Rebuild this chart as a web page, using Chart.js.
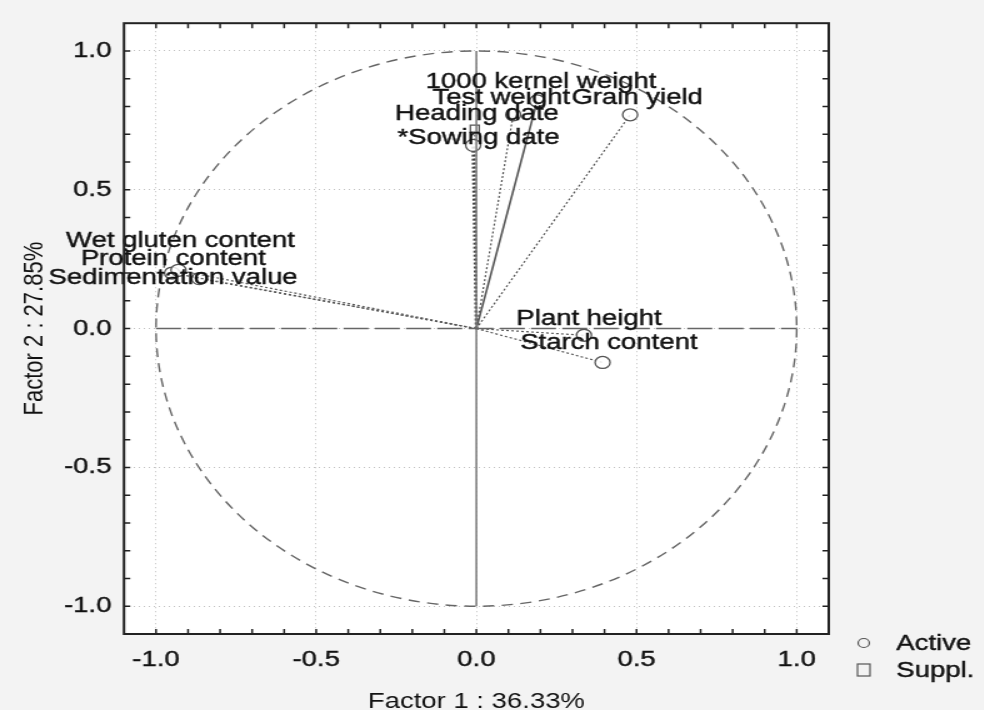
<!DOCTYPE html>
<html>
<head>
<meta charset="utf-8">
<script src="https://cdn.jsdelivr.net/npm/chart.js@4.4.1/dist/chart.umd.min.js"></script>
<style>
  html, body { margin: 0; padding: 0; background: #f3f3f3; overflow: hidden; }
  /* the source picture is stretched sideways, so the whole chart is too */
  #wrap { width: 787px; height: 710px; transform: scaleX(1.25); transform-origin: 0 0; }
</style>
</head>
<body>
<div id="wrap"><canvas id="pca"></canvas></div>
<script>
// variable loadings on factor 1 and factor 2
const varNames = ['Grain yield', '1000 kernel weight', 'Test weight', 'Heading date', '*Sowing date',
  'Wet gluten content', 'Protein content', 'Sedimentation value', 'Plant height', 'Starch content'];
const factor1 = [0.48, 0.19, 0.115, -0.01, -0.005, -0.93, -0.95, -0.865, 0.336, 0.394];
const factor2 = [0.77, 0.82, 0.77, 0.66, 0.72, 0.21, 0.20, 0.18, -0.024, -0.122];
const varType = ['active', 'active', 'active', 'active', 'suppl',
  'active', 'active', 'active', 'active', 'active'];

const tickValues = [-1, -0.5, 0, 0.5, 1];
const tickLabels = ['-1.0', '-0.5', '0.0', '0.5', '1.0'];
const xTitle = 'Factor 1 : 36.33%';
const yTitle = 'Factor 2 : 27.85%';
const legendLabels = ['Active', 'Suppl.'];

// label placement, pixels from the point (label centre, baseline)
const labelShift = [[5.6, -11], [3, -13], [-9.6, -11], [3, -25], [3, 15],
  [1.6, -23], [1, -8], [-21, 5], [4, -10], [5, -13]];

const FONT = 'Liberation Sans, Arial, Helvetica, sans-serif';
const INK = '#111';

const vectorSets = varNames.map((name, i) => {
  const solid = name === '1000 kernel weight';
  const heavy = name === 'Heading date';
  return {
    label: name,
    data: [{x: 0, y: 0}, {x: factor1[i], y: factor2[i]}],
    showLine: true,
    borderColor: heavy ? '#444' : '#555',
    borderWidth: heavy ? 2.6 : (solid ? 1.6 : 1.2),
    borderDash: solid ? [] : [2, 2],
    pointRadius: [0, varType[i] === 'suppl' ? 5 : 6],
    pointHoverRadius: [0, 6],
    pointStyle: varType[i] === 'suppl' ? 'rect' : 'circle',
    pointBorderColor: '#555',
    pointBorderWidth: 1.3,
    pointBackgroundColor: 'rgba(255,255,255,0.85)'
  };
});

const axisSets = [
  {label: 'h-axis', data: [{x: -1, y: 0}, {x: 1, y: 0}], showLine: true,
   borderColor: '#666', borderWidth: 1.5, borderDash: [20, 5], pointRadius: 0},
  {label: 'v-axis', data: [{x: 0, y: -1}, {x: 0, y: 1}], showLine: true,
   borderColor: '#777', borderWidth: 1.5, pointRadius: 0}
];

function axis(title, padTick, padTitle, fit) {
  return {
    type: 'linear', min: -1.1, max: 1.1,
    afterBuildTicks: s => { s.ticks = tickValues.map(v => ({value: v})); },
    afterFit: fit,
    ticks: {
      callback: v => tickLabels[tickValues.indexOf(v)],
      color: INK, padding: padTick,
      textStrokeColor: INK, textStrokeWidth: 0.4,
      font: {family: FONT, size: 22}
    },
    grid: {color: '#c2c2c2', lineWidth: 1, drawTicks: false},
    border: {display: false, dash: [1, 3]},
    title: {display: true, text: title, color: INK, padding: padTitle,
      font: {family: FONT, size: 22, lineHeight: 0.7}}
  };
}

const pcaPlugin = {
  id: 'pca',
  beforeDraw(chart) {
    const {ctx, chartArea: a} = chart;
    ctx.save();
    ctx.fillStyle = '#ffffff';
    ctx.fillRect(a.left, a.top, a.right - a.left, a.bottom - a.top);
    ctx.restore();
  },
  beforeDatasetsDraw(chart) {
    // unit circle
    const {ctx, scales: {x, y}} = chart;
    const cx = x.getPixelForValue(0), cy = y.getPixelForValue(0);
    ctx.save();
    ctx.strokeStyle = '#666';
    ctx.lineWidth = 1.4;
    ctx.setLineDash([9, 6]);
    ctx.beginPath();
    ctx.ellipse(cx, cy, x.getPixelForValue(1) - cx, cy - y.getPixelForValue(1), 0, 0, Math.PI * 2);
    ctx.stroke();
    ctx.restore();
  },
  afterDatasetsDraw(chart) {
    const {ctx, scales: {x, y}} = chart;
    ctx.save();
    ctx.font = '22px ' + FONT;
    ctx.fillStyle = INK;
    ctx.strokeStyle = INK;
    ctx.lineWidth = 0.4;
    ctx.textAlign = 'center';
    ctx.textBaseline = 'alphabetic';
    varNames.forEach((name, i) => {
      const px = x.getPixelForValue(factor1[i]) + labelShift[i][0];
      const py = y.getPixelForValue(factor2[i]) + labelShift[i][1];
      ctx.fillText(name, px, py);
      ctx.strokeText(name, px, py);
    });
    ctx.restore();
  },
  afterDraw(chart) {
    const {ctx, chartArea: a, scales: {x, y}} = chart;
    ctx.save();
    // frame
    ctx.strokeStyle = '#222';
    ctx.lineWidth = 2;
    ctx.strokeRect(a.left, a.top, a.right - a.left, a.bottom - a.top);
    // inner minor ticks
    ctx.lineWidth = 1.5;
    ctx.beginPath();
    for (let i = -10; i <= 10; i++) {
      const v = i / 10;
      const px = x.getPixelForValue(v), py = y.getPixelForValue(v);
      ctx.moveTo(px, a.bottom); ctx.lineTo(px, a.bottom - 5);
      ctx.moveTo(px, a.top); ctx.lineTo(px, a.top + 5);
      ctx.moveTo(a.left, py); ctx.lineTo(a.left + 5, py);
      ctx.moveTo(a.right, py); ctx.lineTo(a.right - 5, py);
    }
    ctx.stroke();
    // legend
    const lx = a.right + 28, ly = [a.bottom + 9, a.bottom + 36];
    ctx.strokeStyle = '#555';
    ctx.lineWidth = 1.2;
    ctx.beginPath();
    ctx.arc(lx, ly[0], 4.5, 0, Math.PI * 2);
    ctx.stroke();
    ctx.strokeRect(lx - 5, ly[1] - 6, 10, 12);
    ctx.font = '22px ' + FONT;
    ctx.fillStyle = INK;
    ctx.strokeStyle = INK;
    ctx.lineWidth = 0.4;
    ctx.textAlign = 'left';
    ctx.textBaseline = 'middle';
    legendLabels.forEach((t, i) => {
      ctx.fillText(t, lx + 26, ly[i] + 1);
      ctx.strokeText(t, lx + 26, ly[i] + 1);
    });
    ctx.restore();
  }
};

new Chart(document.getElementById('pca').getContext('2d'), {
  type: 'scatter',
  data: {datasets: [...axisSets, ...vectorSets]},
  options: {
    responsive: true,
    maintainAspectRatio: false,
    animation: false,
    layout: {padding: {top: 21, right: 124, bottom: 0, left: 0}},
    plugins: {legend: {display: false}, tooltip: {enabled: false}},
    scales: {
      x: axis(xTitle, 13, {top: 0, bottom: 0}, s => { s.height = 76; }),
      y: axis(yTitle, 10, {top: 20, bottom: 0}, s => { s.width = 99.2; })
    }
  },
  plugins: [pcaPlugin]
});
</script>
</body>
</html>
